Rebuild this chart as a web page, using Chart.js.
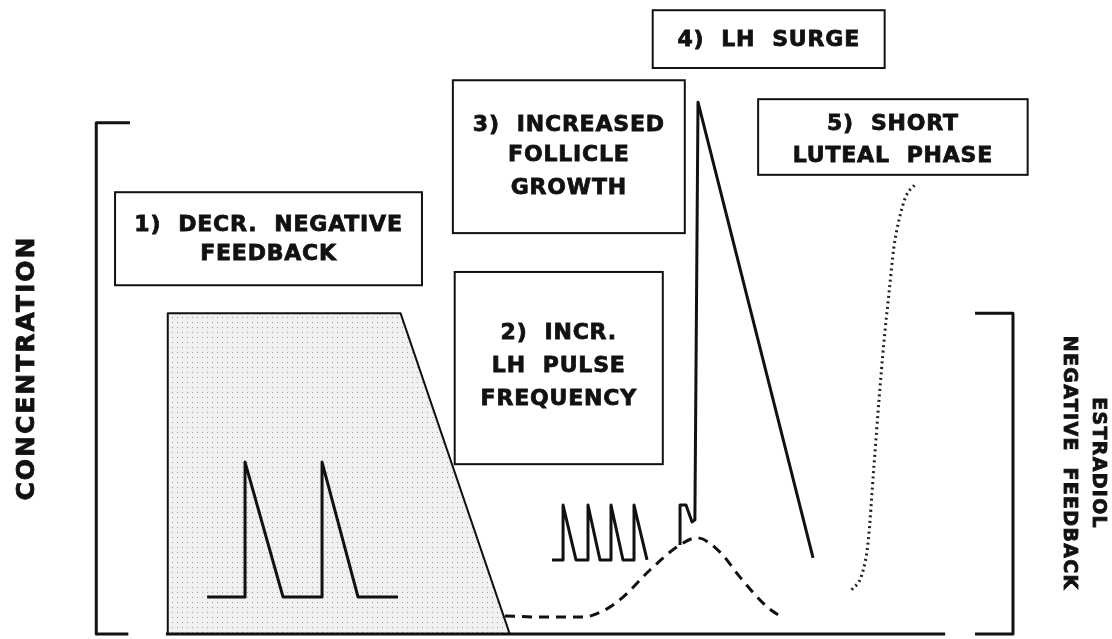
<!DOCTYPE html>
<html lang="en">
<head>
<meta charset="utf-8">
<title>LH surge schematic</title>
<script src="https://cdn.jsdelivr.net/npm/chart.js@4.4.0/dist/chart.umd.min.js"></script>
<style>
  html, body { margin: 0; padding: 0; background: #fff; }
  #wrap { width: 1112px; height: 639px; position: relative; }
</style>
</head>
<body>
<div id="wrap"><canvas id="chart"></canvas></div>
<script>
// x = time (0 = left bracket, 100 = right bracket), y = concentration (0 = baseline, 100 = top of bracket)

// shaded block: estradiol negative feedback
const shadeX = [7.8, 7.8, 33.2, 45.1];
const shadeY = [0, 62.7, 62.7, 0];

// slow LH pulses under strong feedback
const pulses1X = [12.09, 16.23, 16.23, 20.38, 24.63, 24.63, 28.56, 32.92];
const pulses1Y = [7.2, 7.2, 33.6, 7.2, 7.2, 33.6, 7.2, 7.2];

// faster LH pulses
const pulses2X = [49.72, 50.92, 50.92, 52.33, 53.64, 53.64, 54.95, 56.15, 56.15, 57.46, 58.66, 58.66, 60.08];
const pulses2Y = [14.46, 14.46, 25.2, 14.46, 14.46, 25.2, 14.46, 14.46, 25.2, 14.46, 14.46, 25.2, 14.46];

// LH surge
const surgeX = [63.68, 63.68, 64.33, 64.99, 65.3, 65.64, 78.19];
const surgeY = [17.4, 25.2, 25.2, 21.9, 22.3, 104.0, 14.85];

// follicle growth (dashed)
const follicleX = [44.59, 48.41, 53.1, 55.5, 57.46, 60.4, 63.35, 65.53, 68.04, 70.22, 73.17, 74.91];
const follicleY = [3.5, 3.3, 3.3, 4.7, 7.2, 12.5, 17.0, 18.8, 16.0, 11.1, 5.3, 3.1];

// short luteal phase (dotted)
const lutealX = [82.4, 83.5, 84.2, 84.8, 85.4, 85.9, 86.5, 87.0, 87.6, 88.3, 89.5];
const lutealY = [8.6, 11.5, 18.0, 32.1, 46.1, 56.7, 67.1, 75.5, 81.2, 85.5, 88.2];

// frame pieces
const leftBracketX = [3.68, 0, 0, 3.5];
const leftBracketY = [100, 100, 0, 0];
const rightBracketX = [95.86, 100, 100, 95.86];
const rightBracketY = [62.7, 62.7, 0, 0];
const baselineX = [7.6, 92.6];
const baselineY = [0, 0];

const boxText = [
  ["1)  DECR.  NEGATIVE", "FEEDBACK"],
  ["2)  INCR.", "LH  PULSE", "FREQUENCY"],
  ["3)  INCREASED", "FOLLICLE", "GROWTH"],
  ["4)  LH  SURGE"],
  ["5)  SHORT", "LUTEAL  PHASE"]
];
const yTitle = "CONCENTRATION";
const rightTitle = ["ESTRADIOL", "NEGATIVE  FEEDBACK"];

const pts = (xs, ys) => xs.map((x, i) => ({ x: x, y: ys[i] }));

// dotted grey fill like the printed screen
function makeStipple() {
  const c = document.createElement("canvas");
  c.width = 5; c.height = 5;
  const g = c.getContext("2d");
  g.fillStyle = "#f1f1f1";
  g.fillRect(0, 0, 5, 5);
  g.fillStyle = "#a0a0a0";
  g.fillRect(2, 2, 1, 1);
  return g.createPattern(c, "repeat");
}

const ctx = document.getElementById("chart").getContext("2d");

// box positions in data units
const boxLayout = [
  { x0: 2.05, x1: 35.53, y0: 86.4, y1: 68.2, ys: [80.0, 74.3] },
  { x0: 39.1, x1: 61.8, y0: 70.8, y1: 33.2, ys: [58.9, 52.4, 45.8] },
  { x0: 38.9, x1: 64.2, y0: 108.3, y1: 78.4, ys: [99.5, 93.7, 87.2] },
  { x0: 60.7, x1: 86.0, y0: 122.0, y1: 110.7, ys: [116.2] },
  { x0: 72.2, x1: 101.6, y0: 104.6, y1: 89.8, ys: [99.7, 93.5] }
];

const FONT = "'DejaVu Sans', 'Liberation Sans', sans-serif";

function heavyText(c, s, x, y) {
  c.strokeText(s, x, y);
  c.fillText(s, x, y);
}

const annotations = {
  id: "annotations",
  afterDatasetsDraw(chart) {
    const c = chart.ctx, xs = chart.scales.x, ys = chart.scales.y;
    c.save();
    c.strokeStyle = "#111";
    c.fillStyle = "#111";
    c.lineWidth = 2;
    c.textAlign = "center";
    c.textBaseline = "middle";
    boxLayout.forEach((b, i) => {
      const l = xs.getPixelForValue(b.x0), r = xs.getPixelForValue(b.x1);
      const t = ys.getPixelForValue(b.y0), btm = ys.getPixelForValue(b.y1);
      c.lineWidth = 2;
      c.strokeRect(l, t, r - l, btm - t);
      const cx = (l + r) / 2;
      c.font = "bold 22px " + FONT;
      if ("letterSpacing" in c) c.letterSpacing = "0.8px";
      c.lineWidth = 0.8;
      boxText[i].forEach((line, j) => {
        heavyText(c, line, cx, ys.getPixelForValue(b.ys[j]));
      });
    });

    // left title
    c.save();
    c.translate(xs.getPixelForValue(-7.45), ys.getPixelForValue(52.0));
    c.rotate(-Math.PI / 2);
    c.font = "bold 25px " + FONT;
    if ("letterSpacing" in c) c.letterSpacing = "2px";
    heavyText(c, yTitle, 0, 0);
    c.restore();

    // right title
    c.save();
    c.font = "bold 19px " + FONT;
    if ("letterSpacing" in c) c.letterSpacing = "1.3px";
    const cy = ys.getPixelForValue(33.4);
    [109.3, 106.15].forEach((xv, j) => {
      c.save();
      c.translate(xs.getPixelForValue(xv), cy);
      c.rotate(Math.PI / 2);
      heavyText(c, rightTitle[j], 0, 0);
      c.restore();
    });
    c.restore();
    c.restore();
  }
};

const solid = { borderColor: "#111", borderWidth: 3, pointRadius: 0, showLine: true, fill: false, clip: false, tension: 0, borderJoinStyle: "round", borderCapStyle: "butt" };

new Chart(ctx, {
  type: "scatter",
  data: {
    datasets: [
      Object.assign({}, solid, { label: "Estradiol feedback", data: pts(shadeX, shadeY), borderWidth: 2, fill: "origin", backgroundColor: makeStipple(), order: 10 }),
      Object.assign({}, solid, { label: "LH pulses", data: pts(pulses1X, pulses1Y), order: 1 }),
      Object.assign({}, solid, { label: "LH pulses (fast)", data: pts(pulses2X, pulses2Y), order: 1 }),
      Object.assign({}, solid, { label: "LH surge", data: pts(surgeX, surgeY), order: 1 }),
      Object.assign({}, solid, { label: "Follicle", data: pts(follicleX, follicleY), borderDash: [10, 7], tension: 0.4, cubicInterpolationMode: "monotone", order: 2 }),
      Object.assign({}, solid, { label: "Luteal", data: pts(lutealX, lutealY), borderWidth: 3, borderColor: "#222", borderDash: [2, 3.5], tension: 0.4, cubicInterpolationMode: "monotone", order: 2 }),
      Object.assign({}, solid, { label: "frame L", data: pts(leftBracketX, leftBracketY), order: 3 }),
      Object.assign({}, solid, { label: "frame R", data: pts(rightBracketX, rightBracketY), order: 3 }),
      Object.assign({}, solid, { label: "baseline", data: pts(baselineX, baselineY), order: 3 })
    ]
  },
  options: {
    responsive: true,
    maintainAspectRatio: false,
    animation: false,
    layout: { padding: 0 },
    plugins: { legend: { display: false }, tooltip: { enabled: false } },
    scales: {
      x: { type: "linear", min: -10.5, max: 110.8, display: false },
      y: { type: "linear", min: -1, max: 124, display: false }
    }
  },
  plugins: [annotations]
});
</script>
</body>
</html>
